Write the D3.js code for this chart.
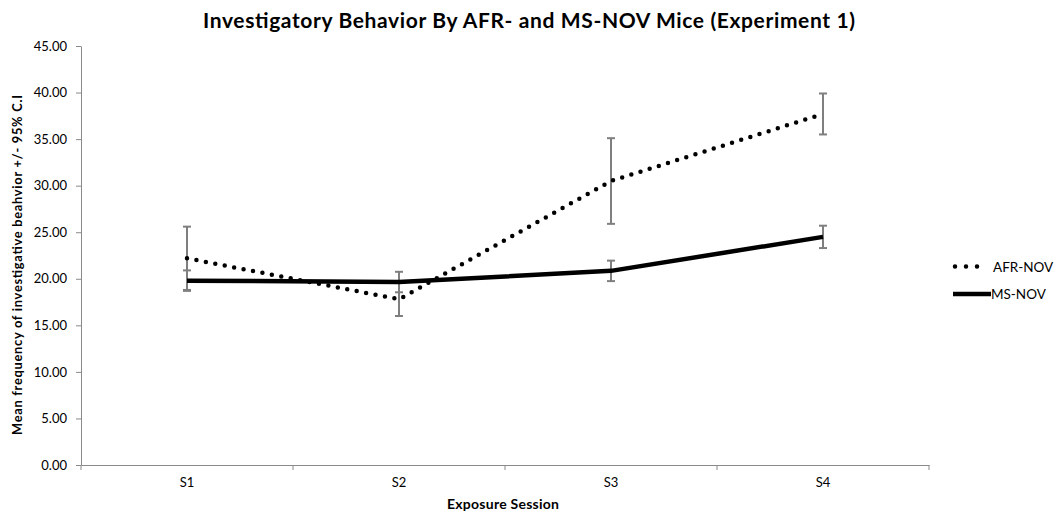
<!DOCTYPE html>
<html><head><meta charset="utf-8">
<script src="https://cdn.jsdelivr.net/npm/d3@7"></script>
<style>body{margin:0;background:#fff}</style>
</head><body>
<svg id="c" width="1056" height="517"></svg>
<script>
const categories = ["S1","S2","S3","S4"];
const afrMean = [22.2, 17.8, 30.5, 37.7];
const afrCI   = [3.4, 1.8, 4.6, 2.2];
const msMean  = [19.8, 19.65, 20.85, 24.5];
const msCI    = [1.1, 1.1, 1.1, 1.2];
const yTicks  = [0,5,10,15,20,25,30,35,40,45];
const seriesNames = ["AFR-NOV","MS-NOV"];

const font = "Lato, 'Open Sans', sans-serif";
const svg = d3.select("#c");
const x = d3.scaleBand().domain(categories).range([81, 929]);
const y = d3.scaleLinear().domain([0,45]).range([465, 46]);
const axisColor = "#8a8a8a";

// y axis
const ya = svg.append("g").attr("transform","translate(81,0)")
  .call(d3.axisLeft(y).tickValues(yTicks).tickFormat(d3.format(".2f")).tickSize(5).tickSizeOuter(0));
ya.select(".domain").attr("stroke",axisColor).attr("stroke-width",1);
ya.selectAll(".tick line").attr("stroke",axisColor);
ya.selectAll("text").attr("font-family",font).attr("font-size",13).attr("fill","#000").attr("x",-14);

// x axis
const xa = svg.append("g").attr("transform","translate(0,465)")
  .call(d3.axisBottom(x).tickSize(0).tickSizeOuter(0));
xa.select(".domain").attr("stroke",axisColor).attr("stroke-width",1);
xa.selectAll("text").attr("font-family",font).attr("font-size",13).attr("fill","#000").attr("dy","1.2em").attr("y",6);
const bounds = categories.map(c => x(c)).concat([x.range()[1]]);
svg.append("g").selectAll("line").data(bounds).join("line")
  .attr("x1",d=>d).attr("x2",d=>d).attr("y1",465).attr("y2",470).attr("stroke",axisColor);

const cx = c => x(c) + x.bandwidth()/2;

// error bars
function errBars(means, cis){
  const g = svg.append("g").attr("stroke","#7f7f7f").attr("stroke-width",2);
  categories.forEach((c,i)=>{
    const xx = cx(c), t = y(means[i]+cis[i]), b = y(means[i]-cis[i]);
    g.append("line").attr("x1",xx).attr("x2",xx).attr("y1",t).attr("y2",b);
    g.append("line").attr("x1",xx-4).attr("x2",xx+4).attr("y1",t).attr("y2",t);
    g.append("line").attr("x1",xx-4).attr("x2",xx+4).attr("y1",b).attr("y2",b);
  });
}
errBars(afrMean, afrCI);
errBars(msMean, msCI);

const line = d3.line().x((d,i)=>cx(categories[i])).y(d=>y(d));
svg.append("path").datum(msMean).attr("d",line).attr("fill","none")
  .attr("stroke","#000").attr("stroke-width",4.5).attr("stroke-linejoin","round");
svg.append("path").datum(afrMean).attr("d",line).attr("fill","none")
  .attr("stroke","#000").attr("stroke-width",4.5).attr("stroke-linecap","round")
  .attr("stroke-dasharray","0 9.6");

// legend
const lg = svg.append("g");
lg.append("line").attr("x1",955).attr("x2",988).attr("y1",266.5).attr("y2",266.5)
  .attr("stroke","#000").attr("stroke-width",4.5).attr("stroke-linecap","round").attr("stroke-dasharray","0 11");
lg.append("text").attr("x",993).attr("y",271.5).text(seriesNames[0])
  .attr("font-family",font).attr("font-size",13.5);
lg.append("line").attr("x1",953).attr("x2",991).attr("y1",294).attr("y2",294)
  .attr("stroke","#000").attr("stroke-width",4.5);
lg.append("text").attr("x",991).attr("y",299).text(seriesNames[1])
  .attr("font-family",font).attr("font-size",13.5);

// titles
svg.append("text").attr("x",529).attr("y",28).attr("text-anchor","middle")
  .attr("font-family",font).attr("font-weight","bold").attr("font-size",21)
  .attr("textLength",652).attr("lengthAdjust","spacing")
  .text("Investigatory Behavior By AFR- and MS-NOV Mice (Experiment 1)");
svg.append("text").attr("x",503).attr("y",509).attr("text-anchor","middle")
  .attr("font-family",font).attr("font-weight","bold").attr("font-size",14)
  .attr("textLength",112).attr("lengthAdjust","spacing")
  .text("Exposure Session");
svg.append("text").attr("transform","translate(22,265) rotate(-90)").attr("text-anchor","middle")
  .attr("font-family",font).attr("font-weight","bold").attr("font-size",12.8)
  .attr("textLength",340).attr("lengthAdjust","spacing")
  .text("Mean frequency of investigative beahvior +/- 95% C.I");
</script>
</body></html>
